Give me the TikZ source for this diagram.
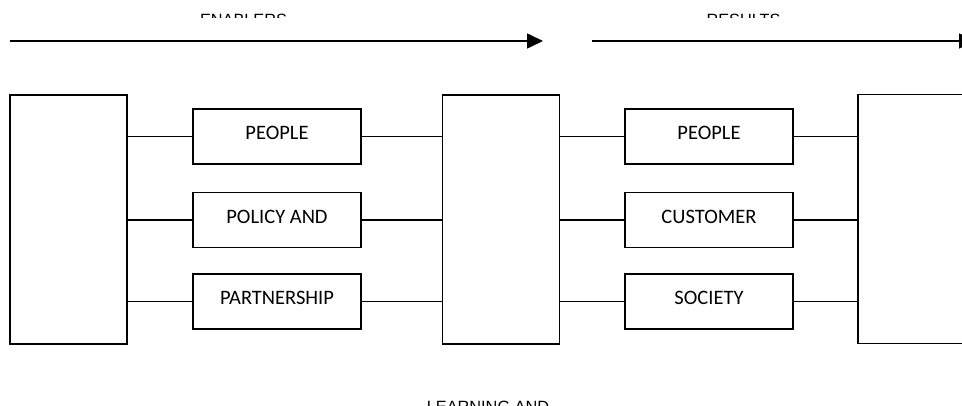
\documentclass[tikz,border=0pt]{standalone}
\usepackage{fontspec}
\setmainfont{Carlito}
\newfontfamily\labelfont{Liberation Sans}
\usetikzlibrary{arrows.meta}
\tikzset{
  bigbox/.style={draw, line width=1.6pt, minimum width=117pt, minimum height=249pt, inner sep=0pt},
  smallbox/.style={draw, line width=1.6pt, minimum width=168pt, minimum height=55pt, inner sep=0pt,
    text height=13.2pt, text depth=6.4pt, font=\fontsize{20.5}{24}\selectfont},
  conn/.style={line width=1.2pt},
  toplabel/.style={anchor=base, inner sep=0pt, font=\labelfont\fontsize{16.3}{19}\selectfont},
  flow/.style={line width=1.6pt, -{Triangle[length=16pt,width=15pt]}}
}
\begin{document}
\begin{tikzpicture}[x=1pt,y=-1pt]
\useasboundingbox (0,0) rectangle (962,406);
\clip (0,0) rectangle (962,406);
\fill[white] (0,0) rectangle (962,406);
% big boxes
\node[bigbox] (L) at (68.5,219.5) {};
\node[bigbox] (M) at (501,219.5) {};
\node[bigbox] (R) at (916.5,219) {};
% small boxes
\node[smallbox] (e1) at (277,136.5) {PEOPLE};
\node[smallbox] (e2) at (277,220) {POLICY AND};
\node[smallbox] (e3) at (277,301.5) {PARTNERSHIP};
\node[smallbox] (r1) at (709,136.5) {PEOPLE};
\node[smallbox] (r2) at (709,220) {CUSTOMER};
\node[smallbox] (r3) at (709,301.5) {SOCIETY};
% connectors
\foreach \s in {e1,e2,e3}{
  \draw[conn] (L.east |- \s.west) -- (\s.west);
  \draw[conn] (\s.east) -- (M.west |- \s.east);
}
\foreach \s in {r1,r2,r3}{
  \draw[conn] (M.east |- \s.west) -- (\s.west);
  \draw[conn] (\s.east) -- (R.west |- \s.east);
}
% flow arrows
\coordinate (a1) at (10,41);
\coordinate (a2) at (543,41);
\coordinate (b1) at (592,41);
\coordinate (b2) at (975,41);
\draw[flow] (a1) -- (a2);
\draw[flow] (b1) -- (b2);
% top labels (clipped)
\begin{scope}
\clip (0,0) rectangle (962,17.5);
\node[toplabel] (en) at (243.5,25.7) {ENABLERS};
\node[toplabel] (rs) at (743.5,25.7) {RESULTS};
\end{scope}
\node[toplabel] (la) at (488,412.4) {LEARNING AND};
\end{tikzpicture}
\end{document}
